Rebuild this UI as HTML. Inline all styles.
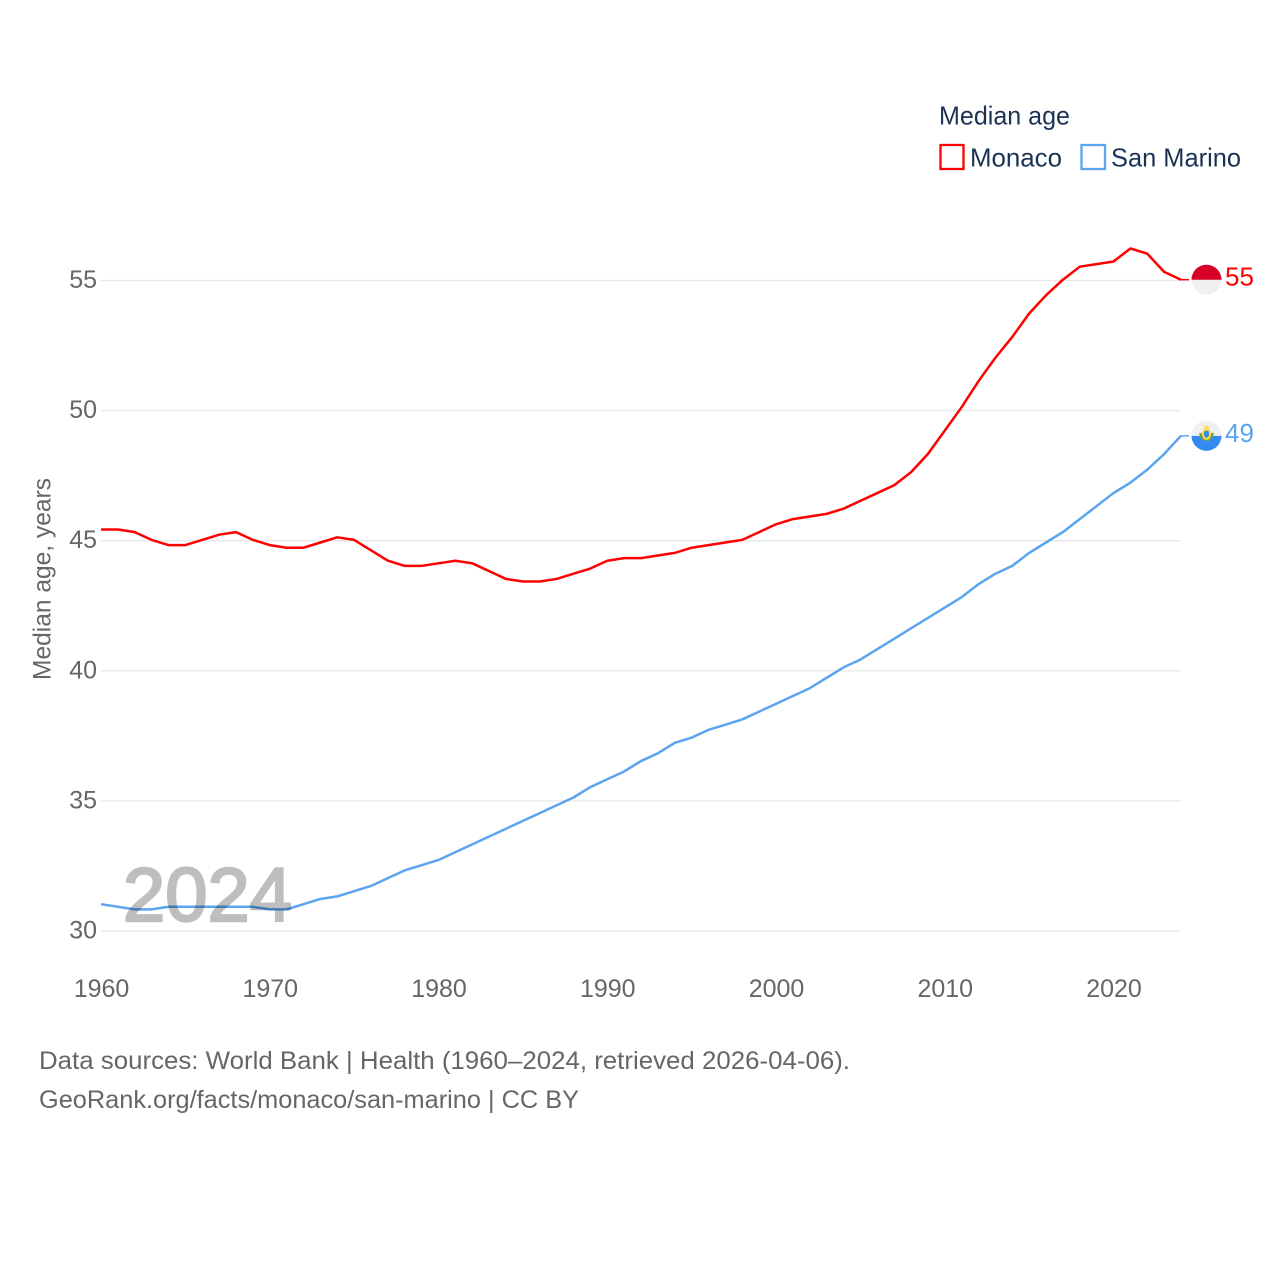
<!DOCTYPE html>
<html lang="en">
<head>
<meta charset="utf-8">
<title>Median age: Monaco and San Marino</title>
<style>
html,body{margin:0;padding:0;background:#fff;width:1280px;height:1280px;overflow:hidden}
svg{display:block}
text{font-family:"Liberation Sans",sans-serif}
.tick{font-size:25px;fill:#666}
.legend{font-size:26px;fill:#1a3354}
.foot{font-size:25px;fill:#666}
</style>
</head>
<body>
<svg id="chart" xmlns="http://www.w3.org/2000/svg" width="1280" height="1280" viewBox="0 0 1280 1280">
  <g id="grid"></g>
  <g id="yticks"></g>
  <g id="xticks"></g>
  <text transform="translate(50.5,680) rotate(-90)" font-size="25" fill="#666" textLength="202" lengthAdjust="spacingAndGlyphs">Median age, years</text>
  <g id="series"></g>
  <text x="123" y="921" font-size="76" fill="#000" stroke="#000" stroke-width="2.4" opacity="0.25" textLength="169" lengthAdjust="spacingAndGlyphs">2024</text>

  <g>
    <text class="legend" x="939" y="124.5" textLength="131" lengthAdjust="spacingAndGlyphs">Median age</text>
    <rect x="940.5" y="145" width="23" height="24" fill="#fff" stroke="#ff0000" stroke-width="2.3"/>
    <text class="legend" x="970" y="166.5" textLength="92" lengthAdjust="spacingAndGlyphs">Monaco</text>
    <rect x="1081.5" y="145" width="23.5" height="24" fill="#fff" stroke="#5ba4ef" stroke-width="2.3"/>
    <text class="legend" x="1111" y="166.5" textLength="130" lengthAdjust="spacingAndGlyphs">San Marino</text>
  </g>

  <g id="flag-monaco">
    <circle cx="1206.5" r="15" fill="#f0f0f0"/>
    <path id="monaco-top" fill="#d80027"/>
  </g>
  <g id="flag-sm">
    <circle cx="1206.5" r="15" fill="#f0f0f0"/>
    <path id="sm-bottom" fill="#338af3"/>
    <g id="sm-emblem">
      <path d="M1200.5 -3a6 7 0 0 0 12 0" fill="none" stroke="#6da544" stroke-width="2.4"/>
      <ellipse cx="1206.5" cy="-2" rx="3.6" ry="5" fill="#338af3" stroke="#ffda44" stroke-width="2"/>
      <rect x="1204.5" y="-10" width="4" height="5" fill="#ffda44"/>
    </g>
  </g>
  <g id="end-labels"></g>

  <text class="foot" x="39" y="1069" textLength="811" lengthAdjust="spacingAndGlyphs">Data sources: World Bank | Health (1960–2024, retrieved 2026-04-06).</text>
  <text class="foot" x="39" y="1108" textLength="540" lengthAdjust="spacingAndGlyphs">GeoRank.org/facts/monaco/san-marino | CC BY</text>
</svg>
<script>
const startYear = 1960;
const yTickValues = [30, 35, 40, 45, 50, 55];
const xTickValues = [1960, 1970, 1980, 1990, 2000, 2010, 2020];
const monacoValues = [45.4,45.4,45.3,45.0,44.8,44.8,45.0,45.2,45.3,45.0,44.8,44.7,44.7,44.9,45.1,45.0,44.6,44.2,44.0,44.0,44.1,44.2,44.1,43.8,43.5,43.4,43.4,43.5,43.7,43.9,44.2,44.3,44.3,44.4,44.5,44.7,44.8,44.9,45.0,45.3,45.6,45.8,45.9,46.0,46.2,46.5,46.8,47.1,47.6,48.3,49.2,50.1,51.1,52.0,52.8,53.7,54.4,55.0,55.5,55.6,55.7,56.2,56.0,55.3,55.0];
const sanMarinoValues = [31.0,30.9,30.8,30.8,30.9,30.9,30.9,30.9,30.9,30.9,30.8,30.8,31.0,31.2,31.3,31.5,31.7,32.0,32.3,32.5,32.7,33.0,33.3,33.6,33.9,34.2,34.5,34.8,35.1,35.5,35.8,36.1,36.5,36.8,37.2,37.4,37.7,37.9,38.1,38.4,38.7,39.0,39.3,39.7,40.1,40.4,40.8,41.2,41.6,42.0,42.4,42.8,43.3,43.7,44.0,44.5,44.9,45.3,45.8,46.3,46.8,47.2,47.7,48.3,49.0];

const NS = 'http://www.w3.org/2000/svg';
const plotLeft = 101, plotRight = 1181;
const xOf = function (year) { return plotLeft + (year - 1960) * (plotRight - plotLeft) / 64; };
const yOf = function (v) { return 931 - (v - 30) * 26.02; };
const lineY = function (v) { return yOf(v) - 0.8; };
const mk = function (tag, parent) {
  const el = document.createElementNS(NS, tag);
  parent.appendChild(el);
  return el;
};

const gridG = document.getElementById('grid');
const yG = document.getElementById('yticks');
yTickValues.forEach(function (v) {
  const ln = mk('line', gridG);
  
  
  ln.setAttribute('x1', plotLeft);
  ln.setAttribute('x2', plotRight);
  ln.setAttribute('y1', yOf(v));
  ln.setAttribute('y2', yOf(v));
  ln.setAttribute('stroke', '#e8e8e8');
  ln.setAttribute('stroke-width', '1.3');
  const t = mk('text', yG);
  
  
  t.setAttribute('class', 'tick');
  t.setAttribute('x', 97);
  t.setAttribute('y', yOf(v) + 7.5);
  t.setAttribute('text-anchor', 'end');
  t.textContent = v;
});

const xG = document.getElementById('xticks');
xTickValues.forEach(function (yr) {
  const t = mk('text', xG);
  
  
  t.setAttribute('class', 'tick');
  t.setAttribute('x', xOf(yr) + 0.5);
  t.setAttribute('y', 997);
  t.setAttribute('text-anchor', 'middle');
  t.textContent = yr;
});

const seriesG = document.getElementById('series');
const labelG = document.getElementById('end-labels');
const drawSeries = function (values, color, lineName, connectorName, labelName) {
  const pts = values.map(function (v, i) {
    return xOf(startYear + i).toFixed(2) + ',' + lineY(v).toFixed(2);
  }).join(' ');
  const pl = mk('polyline', seriesG);
  
  
  pl.setAttribute('points', pts);
  pl.setAttribute('fill', 'none');
  pl.setAttribute('stroke', color);
  pl.setAttribute('stroke-width', '2.5');
  pl.setAttribute('stroke-linejoin', 'round');
  const last = values[values.length - 1];
  const c = mk('line', seriesG);
  
  
  c.setAttribute('x1', plotRight);
  c.setAttribute('x2', plotRight + 8);
  c.setAttribute('y1', lineY(last));
  c.setAttribute('y2', lineY(last));
  c.setAttribute('stroke', color);
  c.setAttribute('stroke-width', '1.5');
  const t = mk('text', labelG);
  
  
  t.setAttribute('x', 1225);
  t.setAttribute('y', lineY(last) + 6);
  t.setAttribute('font-size', '26');
  t.setAttribute('fill', color);
  t.textContent = Math.round(last);
  return lineY(last);
};
const yMon = drawSeries(monacoValues, '#ff0000', 'monaco-line', 'monaco-connector', 'monaco-end-label');
const ySM = drawSeries(sanMarinoValues, '#5ba4ef', 'san-marino-line', 'san-marino-connector', 'san-marino-end-label');

document.querySelector('#flag-monaco circle').setAttribute('cy', yMon);
document.getElementById('monaco-top').setAttribute('d', 'M1191.5 ' + yMon + 'a15 15 0 0 1 30 0z');
document.querySelector('#flag-sm circle').setAttribute('cy', ySM);
document.getElementById('sm-bottom').setAttribute('d', 'M1191.5 ' + ySM + 'a15 15 0 0 0 30 0z');
document.getElementById('sm-emblem').setAttribute('transform', 'translate(0,' + ySM + ')');
</script>
</body>
</html>
